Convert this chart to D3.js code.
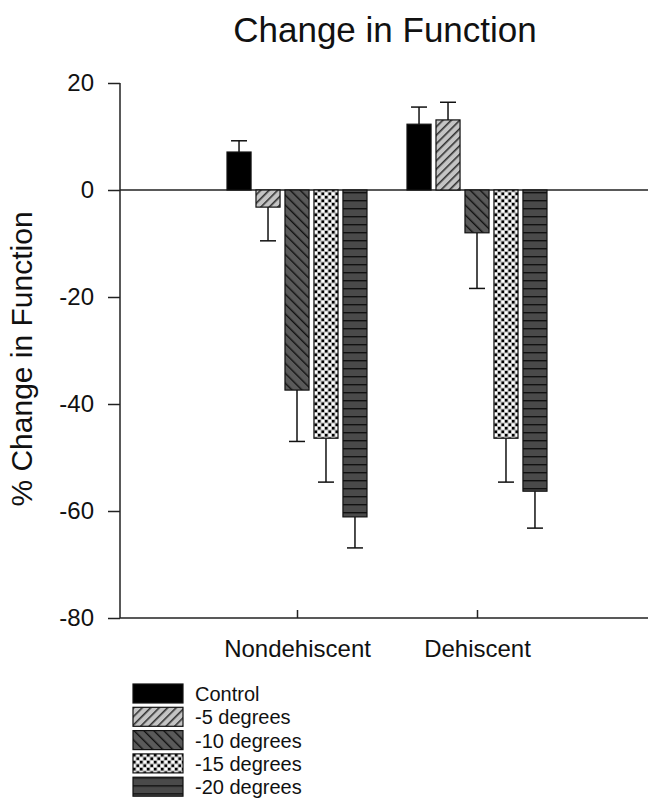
<!DOCTYPE html>
<html>
<head>
<meta charset="utf-8">
<script src="https://cdn.jsdelivr.net/npm/d3@7"></script>
<style>
  body { margin: 0; background: #fff; }
  svg { display: block; font-family: "Liberation Sans", Arial, sans-serif; }
</style>
</head>
<body>
<div id="chart"></div>
<script>
// chart data
const groups = ["Nondehiscent", "Dehiscent"];
const series = ["Control", "-5 degrees", "-10 degrees", "-15 degrees", "-20 degrees"];
const nondehiscentValues = [7.1, -3.2, -37.4, -46.4, -61.1];
const nondehiscentErrors = [2.1, 6.3, 9.6, 8.2, 5.8];
const dehiscentValues = [12.3, 13.1, -8.0, -46.4, -56.3];
const dehiscentErrors = [3.2, 3.3, 10.4, 8.2, 6.9];
const yTicks = [20, 0, -20, -40, -60, -80];

const width = 648, height = 801;
const svg = d3.select("#chart").append("svg")
    .attr("width", width).attr("height", height);

// fill patterns
const defs = svg.append("defs");
const pats = ["solid", "p5", "p10", "p15", "p20"];

let p5 = defs.append("pattern").attr("id", "p5").attr("patternUnits", "userSpaceOnUse")
    .attr("width", 6).attr("height", 6).attr("patternTransform", "rotate(45)");
p5.append("rect").attr("width", 6).attr("height", 6).attr("fill", "#c4c4c4");
p5.append("rect").attr("x", 0).attr("width", 1.6).attr("height", 6).attr("fill", "#333");

let p10 = defs.append("pattern").attr("id", "p10").attr("patternUnits", "userSpaceOnUse")
    .attr("width", 7).attr("height", 7).attr("patternTransform", "rotate(-45)");
p10.append("rect").attr("width", 7).attr("height", 7).attr("fill", "#5a5a5a");
p10.append("rect").attr("x", 0).attr("width", 1.4).attr("height", 7).attr("fill", "#111");

let p15 = defs.append("pattern").attr("id", "p15").attr("patternUnits", "userSpaceOnUse")
    .attr("width", 7).attr("height", 7);
p15.append("rect").attr("width", 7).attr("height", 7).attr("fill", "#bdbdbd");
p15.append("rect").attr("x", 0).attr("y", 0).attr("width", 2.5).attr("height", 2.5).attr("fill", "#000");
p15.append("rect").attr("x", 3.5).attr("y", 3.5).attr("width", 2.5).attr("height", 2.5).attr("fill", "#000");
p15.append("rect").attr("x", 3.5).attr("y", 0).attr("width", 2.5).attr("height", 2.5).attr("fill", "#fff");
p15.append("rect").attr("x", 0).attr("y", 3.5).attr("width", 2.5).attr("height", 2.5).attr("fill", "#fff");

let p20 = defs.append("pattern").attr("id", "p20").attr("patternUnits", "userSpaceOnUse")
    .attr("width", 8).attr("height", 8);
p20.append("rect").attr("width", 8).attr("height", 8).attr("fill", "#4a4a4a");
p20.append("rect").attr("y", 0).attr("width", 8).attr("height", 1.4).attr("fill", "#111");

const fillFor = i => i === 0 ? "#000" : "url(#" + pats[i] + ")";

// scales
const y = d3.scaleLinear().domain([-80, 20]).range([618, 83]);
const x0 = d3.scalePoint().domain(groups).range([117, 657]).padding(1);
const x1 = d3.scaleBand().domain(series).range([-70, 70]).paddingInner(0.17);

// title
svg.append("text").attr("x", 385).attr("y", 42)
    .attr("text-anchor", "middle").attr("font-size", 35).attr("fill", "#111")
    .text("Change in Function");

// y label
svg.append("text").attr("transform", "translate(32,359) rotate(-90)")
    .attr("text-anchor", "middle").attr("font-size", 30).attr("fill", "#111")
    .text("% Change in Function");

// y axis
let yAxis = svg.append("g").attr("transform", "translate(120,0)")
    .call(d3.axisLeft(y).tickValues(yTicks).tickSize(12).tickPadding(14)
        .tickFormat(d => String(d)));
yAxis.select(".domain").attr("stroke", "#222").attr("stroke-width", 1.5).attr("d", "M0," + y(20) + "V" + y(-80));
yAxis.selectAll(".tick line").attr("stroke", "#222").attr("stroke-width", 1.5);
yAxis.selectAll(".tick text").attr("font-size", 24).attr("fill", "#111")
    .attr("font-family", "Liberation Sans, Arial, sans-serif");

// x axis at bottom, ticks pointing up
let xAxis = svg.append("g").attr("transform", "translate(0,618)")
    .call(d3.axisBottom(x0).tickSize(-8).tickPadding(22));
xAxis.select(".domain").attr("stroke", "#222").attr("stroke-width", 1.5).attr("d", "M120,0H648");
xAxis.selectAll(".tick line").attr("stroke", "#222").attr("stroke-width", 1.5);
xAxis.selectAll(".tick text").attr("font-size", 24).attr("fill", "#111")
    .attr("font-family", "Liberation Sans, Arial, sans-serif");

// zero line
svg.append("line").attr("x1", 120).attr("x2", 648)
    .attr("y1", y(0)).attr("y2", y(0))
    .attr("stroke", "#222").attr("stroke-width", 1.5);

// bars
const groupData = [
    { name: "Nondehiscent", values: nondehiscentValues, errors: nondehiscentErrors },
    { name: "Dehiscent", values: dehiscentValues, errors: dehiscentErrors }
];

let barG = svg.append("g").selectAll("g").data(groupData).join("g")
    .attr("transform", d => "translate(" + x0(d.name) + ",0)");

let cells = barG.selectAll("g.bar").data(d => d.values.map((v, i) => ({ v: v, e: d.errors[i], i: i })))
    .join("g").classed("bar", true);

// error bars (away from zero)
const tip = d => y(d.v + (d.v >= 0 ? d.e : -d.e));
const mid = d => x1(series[d.i]) + x1.bandwidth() / 2;
cells.append("line")
    .attr("x1", mid).attr("x2", mid)
    .attr("y1", d => y(d.v)).attr("y2", tip)
    .attr("stroke", "#111").attr("stroke-width", 1.5);
cells.append("line")
    .attr("x1", d => mid(d) - 8).attr("x2", d => mid(d) + 8)
    .attr("y1", tip).attr("y2", tip)
    .attr("stroke", "#111").attr("stroke-width", 1.5);

cells.append("rect")
    .attr("x", d => x1(series[d.i]))
    .attr("width", x1.bandwidth())
    .attr("y", d => Math.min(y(d.v), y(0)))
    .attr("height", d => Math.abs(y(d.v) - y(0)))
    .attr("fill", d => fillFor(d.i))
    .attr("stroke", "#111").attr("stroke-width", 1.2);

// legend
let legend = svg.append("g").selectAll("g").data(series).join("g")
    .attr("transform", (d, i) => "translate(133," + (684 + i * 23.3) + ")");
legend.append("rect").attr("width", 50).attr("height", 19)
    .attr("fill", (d, i) => fillFor(i))
    .attr("stroke", "#111").attr("stroke-width", 1.2);
legend.append("text").attr("x", 62).attr("y", 17)
    .attr("font-size", 20).attr("fill", "#111")
    .text(d => d);
</script>
</body>
</html>
